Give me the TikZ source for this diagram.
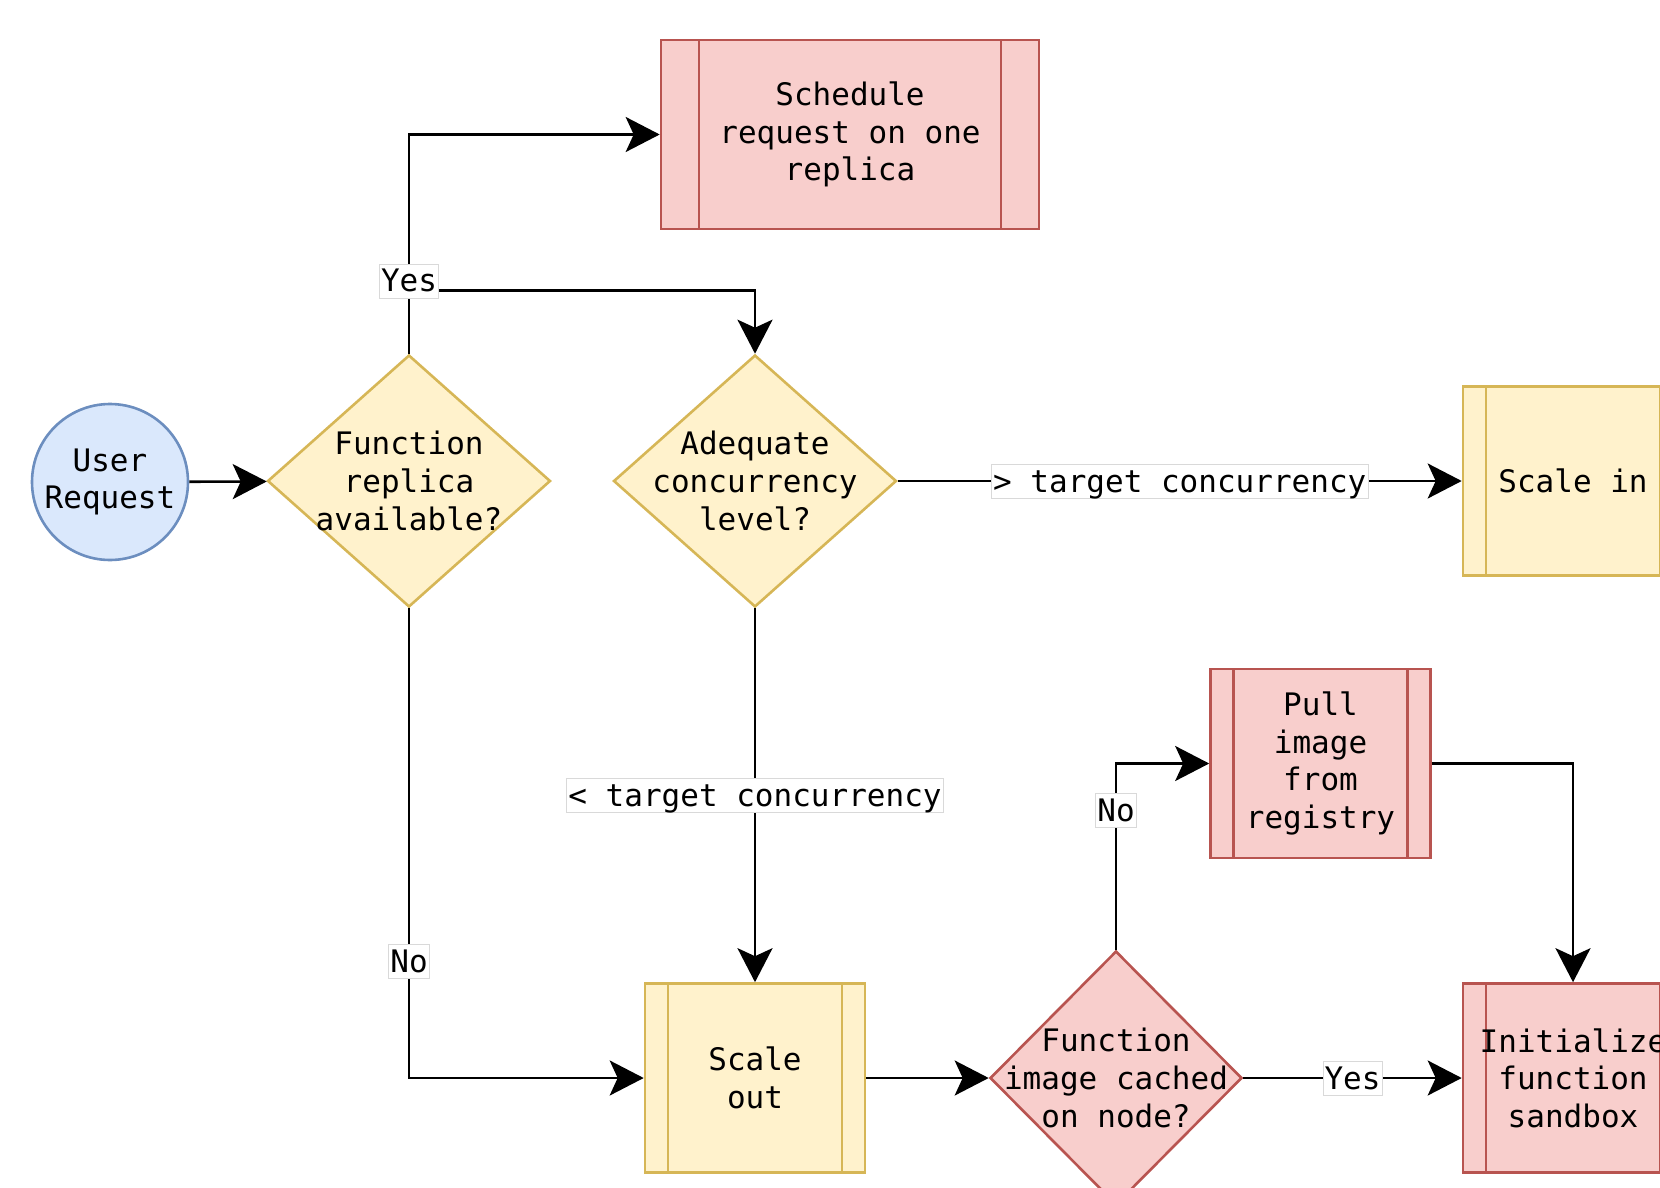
\documentclass[tikz,border=0pt]{standalone}
\usepackage{fontspec}
\setmainfont{DejaVu Sans Mono}
\usetikzlibrary{arrows.meta, positioning, shapes, shapes.geometric}
\usepackage{xcolor}
\definecolor{bluefill}{HTML}{dae8fc}
\definecolor{blueline}{HTML}{6c8ebf}
\definecolor{yellowfill}{HTML}{fff2cc}
\definecolor{yellowline}{HTML}{d6b656}
\definecolor{redfill}{HTML}{f8cecc}
\definecolor{redline}{HTML}{b85450}

\tikzset{
  flowtext/.style={font=\fontsize{15.5}{18.8}\selectfont, align=center},
  start/.style={circle, draw=blueline, fill=bluefill, line width=1.3pt,
                minimum size=78pt, inner sep=0pt, flowtext},
  decision/.style={diamond, draw=#1line, fill=#1fill, line width=1.3pt,
                   inner sep=0pt, minimum width=141.5pt, minimum height=126pt},
  bars/.style 2 args={path picture={
      \draw[#2, line width=1.3pt]
        ([xshift=#1]path picture bounding box.north west) -- ([xshift=#1]path picture bounding box.south west)
        ([xshift=-#1]path picture bounding box.north east) -- ([xshift=-#1]path picture bounding box.south east);}},
  process/.style={rectangle, draw=#1line, fill=#1fill, line width=1.3pt,
                  minimum width=110pt, minimum height=94.5pt, flowtext, bars={11.5pt}{#1line}},
  flow/.style={-{Stealth[length=17pt, width=17.5pt, inset=4pt]}, line width=1.3pt},
  elabel/.style={flowtext, fill=white, draw=black!15, line width=0.4pt,
                 inner xsep=0.8pt, inner ysep=1pt, text height=13pt, text depth=2pt}
}

\begin{document}
\begin{tikzpicture}[x=0.5pt, y=-0.5pt]
  \useasboundingbox (0,0) rectangle (1660,1188);

  % nodes
  \node[start] (user) at (110,482) {User\\Request};
  \node[decision=yellow, label={[flowtext]center:{Function\\replica\\available?}}] (replica) at (409,481) {};
  \node[decision=yellow, label={[flowtext]center:{Adequate\\concurrency\\level?}}] (level) at (755,481) {};
  \node[process=red, minimum width=189pt, bars={19pt}{redline}] (schedule) at (850,134.5) {Schedule\\request on one\\replica};
  \node[process=yellow] (scalein) at (1573,481) {Scale in};
  \node[process=yellow] (scaleout) at (755,1078) {Scale\\out};
  \node[decision=red, minimum width=126pt, minimum height=127pt,
        label={[flowtext]center:{Function\\image cached\\on node?}}] (cached) at (1116,1078) {};
  \node[process=red] (pull) at (1320.5,763.5) {Pull\\image\\from\\registry};
  \node[process=red] (init) at (1573,1078) {Initialize\\function\\sandbox};

  % connectors
  \draw[flow] (user) -- (replica);
  \draw[flow] (replica.north) -- ++(0,-63) -| (level.north);
  \draw[flow] (replica.north) |- node[elabel, pos=0.166] {Yes} (schedule.west);
  \draw[flow] (level) -- node[elabel] {> target concurrency} (scalein);
  \draw[flow] (level) -- node[elabel] {< target concurrency} (scaleout);
  \draw[flow] (replica.south) |- node[elabel, pos=0.376] {No} (scaleout.west);
  \draw[flow] (scaleout) -- (cached);
  \draw[flow] (cached.north) |- node[elabel, pos=0.373] {No} (pull.west);
  \draw[flow] (pull.east) -| (init.north);
  \draw[flow] (cached) -- node[elabel] {Yes} (init);
\end{tikzpicture}
\end{document}
